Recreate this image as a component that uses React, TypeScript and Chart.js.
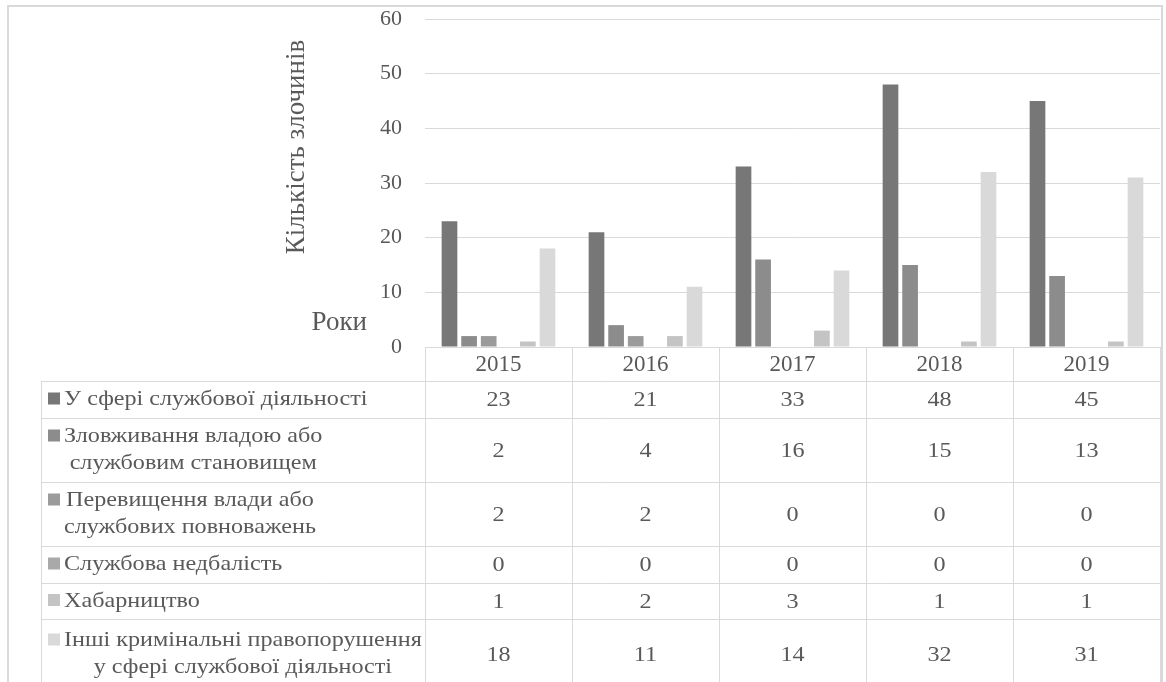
import { useEffect, useRef } from "react";
import { Chart, registerables } from "chart.js";

Chart.register(...registerables);

// Years on the category axis
const years = ["2015", "2016", "2017", "2018", "2019"];

// Number of offences per category and year
const officialActivity = [23, 21, 33, 48, 45];
const abuseOfPower = [2, 4, 16, 15, 13];
const excessOfPower = [2, 2, 0, 0, 0];
const negligence = [0, 0, 0, 0, 0];
const bribery = [1, 2, 3, 1, 1];
const otherOffences = [18, 11, 14, 32, 31];

// Row labels of the data table (split into lines as printed)
const seriesLabels = [
  ["У сфері службової діяльності"],
  ["Зловживання владою або", "службовим становищем"],
  ["Перевищення влади або", "службових повноважень"],
  ["Службова недбалість"],
  ["Хабарництво"],
  ["Інші кримінальні правопорушення", "у сфері службової діяльності"],
];

const seriesValues = [officialActivity, abuseOfPower, excessOfPower, negligence, bribery, otherOffences];

const yAxisTitle = "Кількість злочинів";
const xAxisTitle = "Роки";
const yMin = 0;
const yMax = 60;
const yStep = 10;

const seriesColors = ["#777777", "#8c8c8c", "#9b9b9b", "#a9a9a9", "#c4c4c4", "#d9d9d9"];
const FONT = "'Liberation Serif', 'Times New Roman', serif";
const TEXT = "#595959";
const LINE = "#d9d9d9";

// Table geometry (heights of the body rows, below the year header)
const headerHeight = 34;
const rowHeights = [37, 64, 64, 37, 36, 70];
const tableLeft = 41;
const swatchX = 48;
const swatchSize = 12;
const labelX = 64;
const labelLineGap = 27;
const tableFontSize = 21;
const textStretch = 1.15;

// draws text slightly widened horizontally
function wideText(ctx: CanvasRenderingContext2D, text: string, x: number, y: number, align: CanvasTextAlign) {
  ctx.save();
  ctx.translate(x, y);
  ctx.scale(textStretch, 1);
  ctx.textAlign = align;
  ctx.fillText(text, 0, 0);
  ctx.restore();
}

const tablePlugin = {
  id: "dataTable",
  beforeDraw(chart: any) {
    const { ctx } = chart;
    ctx.save();
    ctx.fillStyle = "#ffffff";
    ctx.fillRect(0, 0, chart.width, chart.height);
    ctx.strokeStyle = LINE;
    ctx.lineWidth = 2;
    ctx.strokeRect(8, 6, 1154, chart.height + 10);
    ctx.restore();
  },
  afterDraw(chart: any) {
    const { ctx, chartArea, scales } = chart;
    const xs = scales.x;
    const right = chartArea.right;
    const headTop = chartArea.bottom;
    const bodyTop = headTop + headerHeight;
    const bottom = chart.height + 10;
    const half = (xs.getPixelForValue(1) - xs.getPixelForValue(0)) / 2;

    ctx.save();
    ctx.strokeStyle = LINE;
    ctx.lineWidth = 1;

    // horizontal rules
    const hline = (y: number, x0: number) => {
      ctx.beginPath();
      ctx.moveTo(x0, Math.round(y) + 0.5);
      ctx.lineTo(right, Math.round(y) + 0.5);
      ctx.stroke();
    };
    hline(headTop, chartArea.left);
    let y = bodyTop;
    const rowTops: number[] = [];
    rowHeights.forEach((h) => {
      rowTops.push(y);
      hline(y, tableLeft);
      y += h;
    });

    // vertical rules
    const vline = (x: number, y0: number) => {
      ctx.beginPath();
      ctx.moveTo(Math.round(x) + 0.5, y0);
      ctx.lineTo(Math.round(x) + 0.5, bottom);
      ctx.stroke();
    };
    vline(tableLeft, bodyTop);
    vline(chartArea.left, headTop);
    years.forEach((_, i) => vline(xs.getPixelForValue(i) + half, headTop));

    // cells
    ctx.font = `${tableFontSize}px ${FONT}`;
    ctx.fillStyle = TEXT;
    ctx.textBaseline = "middle";
    seriesValues.forEach((vals, r) => {
      const cy = rowTops[r] + rowHeights[r] / 2;
      vals.forEach((v, i) => {
        wideText(ctx, String(v), xs.getPixelForValue(i), cy + 1, "center");
      });

      const lines = seriesLabels[r];
      const widths = lines.map((l) => ctx.measureText(l).width * textStretch);
      const maxW = Math.max(...widths);
      const firstY = cy - ((lines.length - 1) * labelLineGap) / 2;
      ctx.fillStyle = seriesColors[r];
      ctx.fillRect(swatchX, firstY - swatchSize / 2 - 1, swatchSize, swatchSize);
      ctx.fillStyle = TEXT;
      lines.forEach((l, k) => {
        wideText(ctx, l, labelX + (maxW - widths[k]) / 2, firstY + k * labelLineGap, "left");
      });
    });

    // axis titles
    ctx.font = `27px ${FONT}`;
    ctx.textAlign = "right";
    ctx.fillText(xAxisTitle, 367, 323);
    ctx.translate(297, 147);
    ctx.rotate(-Math.PI / 2);
    ctx.textAlign = "center";
    ctx.fillText(yAxisTitle, 0, 0);
    ctx.restore();
  },
};

export default function App() {
  const ref = useRef<HTMLCanvasElement | null>(null);

  useEffect(() => {
    if (!ref.current) return;
    const chart = new Chart(ref.current, {
      type: "bar",
      data: {
        labels: years,
        datasets: seriesValues.map((vals, i) => ({
          label: seriesLabels[i].join(" "),
          data: vals,
          backgroundColor: seriesColors[i],
          borderWidth: 0,
          categoryPercentage: 0.8,
          barPercentage: 0.8,
        })),
      },
      options: {
        responsive: false,
        animation: false,
        devicePixelRatio: 1,
        layout: { padding: { left: 0, right: 6, top: 19, bottom: 682 - 381 } },
        plugins: { legend: { display: false }, tooltip: { enabled: false }, title: { display: false } },
        scales: {
          x: {
            grid: { display: false, drawTicks: false },
            border: { display: false },
            ticks: { color: TEXT, font: { family: FONT, size: 23 }, padding: 4 },
            afterFit: (s: any) => {
              s.height = headerHeight;
            },
          },
          y: {
            min: yMin,
            max: yMax,
            grid: { color: LINE, drawTicks: true, tickLength: 23, tickColor: "rgba(0,0,0,0)" },
            border: { display: false },
            ticks: { stepSize: yStep, color: TEXT, font: { family: FONT, size: 22 }, padding: 0 },
            afterFit: (s: any) => {
              s.width = 425;
            },
          },
        },
      },
      plugins: [tablePlugin],
    });
    return () => chart.destroy();
  }, []);

  return (
    <div style={{ position: "fixed", left: 0, top: 0, width: 1166, height: 682, background: "#fff" }}>
      <canvas ref={ref} width={1166} height={682} style={{ display: "block" }} />
    </div>
  );
}
